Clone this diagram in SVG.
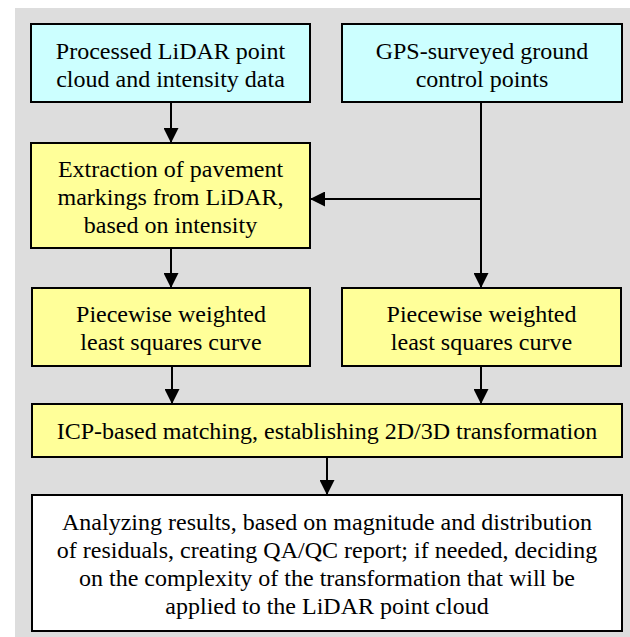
<svg xmlns="http://www.w3.org/2000/svg" width="630" height="637" viewBox="0 0 630 637">
<style>
.box{stroke:#000;stroke-width:2}
.in{fill:#ccffff}
.proc{fill:#ffff99}
.out{fill:#ffffff}
text{font-family:'Liberation Serif',Tinos,'Times New Roman',Times,serif;font-size:24px;fill:#000;text-anchor:middle}
.c{fill:none;stroke:#000;stroke-width:2}
</style>
<defs>
<marker id="ah" markerUnits="userSpaceOnUse" markerWidth="15" markerHeight="15" refX="15" refY="7.5" orient="auto" viewBox="0 0 15 15">
<path d="M0,0 L15,7.5 L0,15 Z" fill="#000"/>
</marker>
</defs>
<rect x="0" y="0" width="630" height="637" fill="#fff"/>
<rect x="15" y="8" width="615" height="629" fill="#dddddd"/>
<g id="connectors">
<line class="c" x1="171" y1="102" x2="171" y2="143" marker-end="url(#ah)"/>
<line class="c" x1="481" y1="102" x2="481" y2="288" marker-end="url(#ah)"/>
<line class="c" x1="481" y1="199" x2="310" y2="199" marker-end="url(#ah)"/>
<line class="c" x1="171" y1="248" x2="171" y2="288" marker-end="url(#ah)"/>
<line class="c" x1="172" y1="366" x2="172" y2="404" marker-end="url(#ah)"/>
<line class="c" x1="481" y1="366" x2="481" y2="404" marker-end="url(#ah)"/>
<line class="c" x1="327" y1="457" x2="327" y2="495" marker-end="url(#ah)"/>
</g>
<g id="lidar">
<rect class="box in" x="31" y="24" width="279" height="78"/>
<text x="170.5" y="59" font-family="Liberation Serif, serif">Processed LiDAR point</text>
<text x="170.5" y="87" font-family="Liberation Serif, serif">cloud and intensity data</text>
</g>
<g id="gps">
<rect class="box in" x="342" y="24" width="280" height="78"/>
<text x="482" y="59">GPS-surveyed ground</text>
<text x="482" y="87">control points</text>
</g>
<g id="extraction">
<rect class="box proc" x="31" y="143" width="279" height="105"/>
<text x="170.5" y="177">Extraction of pavement</text>
<text x="170.5" y="204.5">markings from LiDAR,</text>
<text x="170.5" y="232.5">based on intensity</text>
</g>
<g id="curve-left">
<rect class="box proc" x="32" y="288" width="278" height="78"/>
<text x="171" y="322">Piecewise weighted</text>
<text x="171" y="350">least squares curve</text>
</g>
<g id="curve-right">
<rect class="box proc" x="342" y="288" width="279" height="78"/>
<text x="481.5" y="322">Piecewise weighted</text>
<text x="481.5" y="350">least squares curve</text>
</g>
<g id="icp">
<rect class="box proc" x="32" y="404" width="590" height="53"/>
<text x="327" y="439">ICP-based matching, establishing 2D/3D transformation</text>
</g>
<g id="analysis">
<rect class="box out" x="32" y="495" width="590" height="136"/>
<text x="327" y="530">Analyzing results, based on magnitude and distribution</text>
<text x="327" y="558">of residuals, creating QA/QC report; if needed, deciding</text>
<text x="327" y="586">on the complexity of the transformation that will be</text>
<text x="327" y="614">applied to the LiDAR point cloud</text>
</g>
</svg>
